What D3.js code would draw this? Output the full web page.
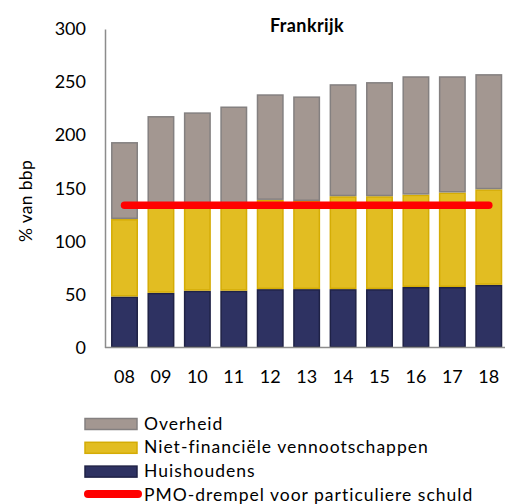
<!DOCTYPE html>
<html>
<head>
<meta charset="utf-8">
<script src="https://cdn.jsdelivr.net/npm/d3@7"></script>
<style>
  html, body { margin: 0; padding: 0; background: #fff; }
  svg { display: block; font-family: Lato, "Open Sans", sans-serif; }
</style>
</head>
<body>
<svg id="chart" width="509" height="504"></svg>
<script>
// Schuld in Frankrijk per sector, % van bbp
const years = ["08", "09", "10", "11", "12", "13", "14", "15", "16", "17", "18"];
const huishoudens = [48, 51.5, 53.5, 53.5, 55, 55, 55, 55, 57, 57, 59];
const vennootschappen = [73, 81.5, 80.5, 81.5, 84, 83, 87.5, 87.5, 87, 89, 90];
const overheid = [72.5, 85, 87.5, 92, 99.5, 98.5, 105.5, 107.5, 111.5, 109.5, 108.5];
const drempel = 134;
const yTicks = [0, 50, 100, 150, 200, 250, 300];

const seriesInfo = [
  { key: "huishoudens", label: "Huishoudens", values: huishoudens, fill: "#2e3262", stroke: "#1f2246" },
  { key: "vennootschappen", label: "Niet-financiële vennootschappen", values: vennootschappen, fill: "#e2bd22", stroke: "#d4ac05" },
  { key: "overheid", label: "Overheid", values: overheid, fill: "#a39791", stroke: "#848080" }
];

const svg = d3.select("#chart");

const x = d3.scaleBand().domain(years).range([106.3, 507]).paddingInner(0.26).paddingOuter(0.13);
const y = d3.scaleLinear().domain([0, 300]).range([347.5, 29]);

const rows = years.map((yr, i) => {
  const r = { year: yr };
  seriesInfo.forEach(s => { r[s.key] = s.values[i]; });
  return r;
});
const stacked = d3.stack().keys(seriesInfo.map(s => s.key))(rows);

// Gestapelde staven
stacked.forEach((layer, li) => {
  const s = seriesInfo[li];
  svg.append("g")
    .selectAll("rect")
    .data(layer)
    .join("rect")
    .attr("x", d => x(d.data.year) + 0.75)
    .attr("width", x.bandwidth() - 1.5)
    .attr("y", d => y(d[1]) + 0.75)
    .attr("height", d => Math.max(0, y(d[0]) - y(d[1]) - 1.5))
    .attr("fill", s.fill)
    .attr("stroke", s.stroke)
    .attr("stroke-width", 1.5);
});

// Assen
const yAxis = svg.append("g")
  .attr("transform", `translate(${105},0)`)
  .call(d3.axisLeft(y).tickValues(yTicks).tickSize(0).tickSizeOuter(0).tickPadding(19));
yAxis.select(".domain").attr("stroke", "#8c8c8c").attr("stroke-width", 1.5);
yAxis.selectAll("text").attr("font-size", 18).attr("fill", "#000").attr("font-family", "Lato, sans-serif");

const xAxis = svg.append("g")
  .attr("transform", `translate(0,${347.5})`)
  .call(d3.axisBottom(x).tickSize(0).tickSizeOuter(0).tickPadding(23));
xAxis.select(".domain").attr("stroke", "#8c8c8c").attr("stroke-width", 1.5)
  .attr("d", `M105,0H505`);
xAxis.selectAll("text").attr("font-size", 18).attr("fill", "#000").attr("font-family", "Lato, sans-serif");

// PMO-drempel
svg.append("line")
  .attr("x1", x(years[0]) + x.bandwidth() / 2)
  .attr("x2", x(years[years.length - 1]) + x.bandwidth() / 2)
  .attr("y1", y(drempel)).attr("y2", y(drempel))
  .attr("stroke", "#ff0000").attr("stroke-width", 7.5).attr("stroke-linecap", "round");

// Titel
svg.append("text")
  .attr("x", 307).attr("y", 32)
  .attr("text-anchor", "middle")
  .attr("font-size", 18).attr("font-weight", "bold")
  .attr("letter-spacing", 0.4)
  .text("Frankrijk");

// Titel y-as
svg.append("text")
  .attr("transform", `translate(32,201) rotate(-90)`)
  .attr("text-anchor", "middle")
  .attr("font-size", 17.5)
  .attr("letter-spacing", 0.3)
  .text("% van bbp");

// Legenda
const legendItems = [
  { label: "Overheid", fill: "#a39791", stroke: "#848080", type: "rect" },
  { label: "Niet-financiële vennootschappen", fill: "#e2bd22", stroke: "#d4ac05", type: "rect" },
  { label: "Huishoudens", fill: "#2e3262", stroke: "#1f2246", type: "rect" },
  { label: "PMO-drempel voor particuliere schuld", fill: "#ff0000", type: "line" }
];
const legend = svg.append("g");
legendItems.forEach((it, i) => {
  const base = 429.5 + i * 23.8;
  if (it.type === "rect") {
    legend.append("rect")
      .attr("x", 85).attr("y", base - 11)
      .attr("width", 52).attr("height", 11)
      .attr("fill", it.fill).attr("stroke", it.stroke).attr("stroke-width", 1.5);
  } else {
    legend.append("line")
      .attr("x1", 88).attr("x2", 138)
      .attr("y1", base - 7).attr("y2", base - 7)
      .attr("stroke", it.fill).attr("stroke-width", 8).attr("stroke-linecap", "round");
  }
  legend.append("text")
    .attr("x", 144).attr("y", base)
    .attr("font-size", 17.5)
    .attr("letter-spacing", 1)
    .text(it.label);
});
</script>
</body>
</html>
